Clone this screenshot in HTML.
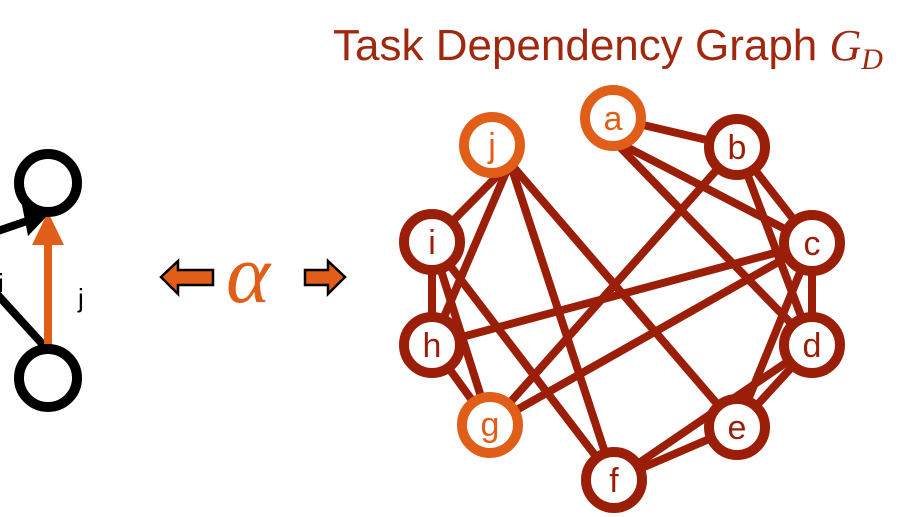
<!DOCTYPE html>
<html><head><style>
html,body{margin:0;padding:0;background:#fff;width:918px;height:517px;overflow:hidden}
</style></head><body>
<svg width="918" height="517" viewBox="0 0 918 517" xmlns="http://www.w3.org/2000/svg">
<text x="333" y="60" font-family="Liberation Sans, sans-serif" font-size="44" fill="#a0280f">Task Dependency Graph <tspan font-family="Liberation Serif, serif" font-style="italic">G</tspan><tspan font-family="Liberation Serif, serif" font-style="italic" font-size="30" dy="9">D</tspan></text>
<!-- left part -->
<line x1="-5" y1="232" x2="30" y2="220" stroke="#000" stroke-width="8"/>
<polygon points="22,205 48,215 28,236" fill="#000"/>
<line x1="-5" y1="292" x2="46" y2="348" stroke="#000" stroke-width="8"/>
<line x1="48" y1="348" x2="48" y2="240" stroke="#e05e18" stroke-width="8"/>
<polygon points="32,245 64,245 48,212" fill="#e05e18"/>
<circle cx="48" cy="183" r="29" fill="none" stroke="#000" stroke-width="10"/>
<circle cx="48" cy="378" r="29" fill="none" stroke="#000" stroke-width="10"/>
<text x="-2" y="292" font-family="Liberation Sans, sans-serif" font-size="26">i</text>
<text x="78" y="307" font-family="Liberation Sans, sans-serif" font-size="26">j</text>
<!-- alpha arrows -->
<polygon points="161,277 178,261 178,270 213,270 213,285 178,285 178,294" fill="#e05e18" stroke="#000" stroke-width="2.5"/>
<polygon points="345,277 328,261 328,270 305,270 305,285 328,285 328,294" fill="#e05e18" stroke="#000" stroke-width="2.5"/>
<text x="226" y="302" font-family="Liberation Serif, serif" font-style="italic" font-size="84" fill="#e05e18">α</text>
<!-- edges -->
<g stroke="#9a1e08" stroke-width="8">
<line x1="613" y1="118" x2="737" y2="147"/>
<line x1="613" y1="140" x2="812" y2="243"/>
<line x1="613" y1="140" x2="812" y2="345"/>
<line x1="737" y1="147" x2="812" y2="243"/>
<line x1="737" y1="147" x2="812" y2="345"/>
<line x1="737" y1="147" x2="490" y2="425"/>
<line x1="812" y1="243" x2="812" y2="345"/>
<line x1="812" y1="243" x2="432" y2="345"/>
<line x1="812" y1="243" x2="490" y2="425"/>
<line x1="812" y1="243" x2="737" y2="427"/>
<line x1="812" y1="345" x2="737" y2="427"/>
<line x1="812" y1="345" x2="614" y2="480"/>
<line x1="737" y1="427" x2="614" y2="480"/>
<line x1="510" y1="163" x2="432" y2="242"/>
<line x1="510" y1="163" x2="432" y2="345"/>
<line x1="510" y1="163" x2="614" y2="480"/>
<line x1="510" y1="163" x2="737" y2="427"/>
<line x1="432" y1="242" x2="432" y2="345"/>
<line x1="432" y1="242" x2="490" y2="425"/>
<line x1="432" y1="242" x2="614" y2="480"/>
<line x1="432" y1="345" x2="490" y2="425"/>
</g>
<!-- nodes -->
<g stroke-width="10" fill="#fff">
<circle cx="613" cy="118" r="28" stroke="#e05e18"/>
<circle cx="492" cy="145" r="28" stroke="#e05e18"/>
<circle cx="490" cy="425" r="28" stroke="#e05e18"/>
<circle cx="737" cy="147" r="28" stroke="#9a1e08"/>
<circle cx="812" cy="243" r="28" stroke="#9a1e08"/>
<circle cx="812" cy="345" r="28" stroke="#9a1e08"/>
<circle cx="737" cy="427" r="28" stroke="#9a1e08"/>
<circle cx="614" cy="480" r="28" stroke="#9a1e08"/>
<circle cx="432" cy="345" r="28" stroke="#9a1e08"/>
<circle cx="432" cy="242" r="28" stroke="#9a1e08"/>
</g>
<g font-family="Liberation Sans, sans-serif" font-size="34" text-anchor="middle" fill="#9a1e08">
<text x="613" y="130" fill="#e05e18">a</text>
<text x="492" y="157" fill="#e05e18">j</text>
<text x="490" y="436" fill="#e05e18">g</text>
<text x="737" y="159">b</text>
<text x="812" y="255">c</text>
<text x="812" y="357">d</text>
<text x="737" y="439">e</text>
<text x="614" y="492">f</text>
<text x="432" y="357">h</text>
<text x="432" y="254">i</text>
</g>
</svg>
</body></html>
